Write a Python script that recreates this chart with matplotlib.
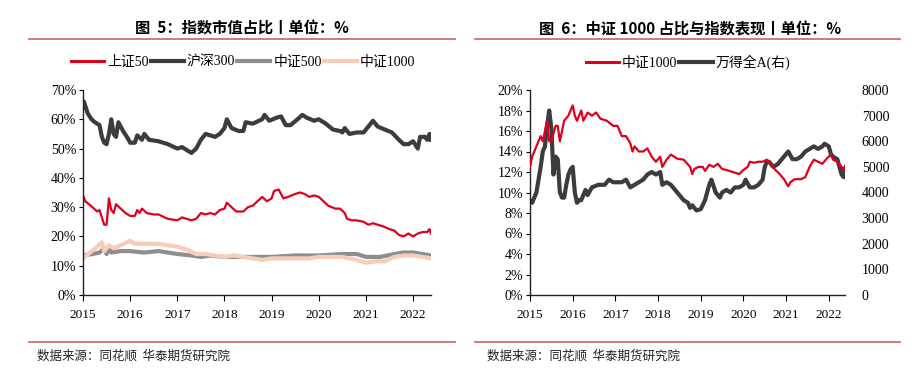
import matplotlib
matplotlib.use("Agg")
import matplotlib.pyplot as plt
from matplotlib.lines import Line2D

# ---------------- data (decimal years) ----------------
hs300_x = [2015.0, 2015.02, 2015.1, 2015.18, 2015.25, 2015.35, 2015.4, 2015.45, 2015.5, 2015.55, 2015.6, 2015.65,
           2015.7, 2015.75, 2015.85, 2015.95, 2016.0, 2016.1, 2016.15, 2016.25, 2016.3, 2016.4, 2016.6, 2016.8,
           2017.0, 2017.1, 2017.2, 2017.3, 2017.4, 2017.5, 2017.6, 2017.8, 2017.9, 2018.0, 2018.05, 2018.15,
           2018.3, 2018.4, 2018.45, 2018.6, 2018.8, 2018.85, 2018.95, 2019.1, 2019.2, 2019.3, 2019.4, 2019.55,
           2019.65, 2019.75, 2019.9, 2020.0, 2020.15, 2020.3, 2020.45, 2020.5, 2020.55, 2020.65, 2020.8, 2020.95,
           2021.05, 2021.15, 2021.25, 2021.4, 2021.55, 2021.7, 2021.8, 2021.9, 2022.0, 2022.1, 2022.15, 2022.25,
           2022.3, 2022.35, 2022.38]
hs300_y = [64, 66, 62, 60, 59, 58, 54, 52, 51.5, 55, 60, 55, 54, 59, 56, 53.5, 52, 52, 54.5, 53, 55, 53, 52.5,
           51.5, 50, 50.5, 49.5, 48.5, 50, 53, 55, 54, 55, 57, 60, 57, 56, 56, 59, 58.5, 60, 61.5, 59.5, 60.5,
           61, 58, 58, 60, 61.5, 60.5, 59.5, 60, 58.5, 56.5, 56, 55.5, 57, 55, 55.5, 55.5, 57.5, 59.5, 57.5,
           56.5, 55.5, 53, 51.5, 51.5, 52.5, 50, 54, 54, 53, 55, 53]

sz50_x = [2015.0, 2015.05, 2015.2, 2015.3, 2015.35, 2015.45, 2015.5, 2015.55, 2015.6, 2015.65, 2015.7, 2015.8,
          2015.9, 2016.0, 2016.1, 2016.15, 2016.2, 2016.25, 2016.35, 2016.5, 2016.6, 2016.8, 2017.0, 2017.1,
          2017.3, 2017.4, 2017.5, 2017.6, 2017.7, 2017.8, 2017.9, 2018.0, 2018.05, 2018.15, 2018.25, 2018.4,
          2018.5, 2018.6, 2018.7, 2018.8, 2018.9, 2019.0, 2019.05, 2019.15, 2019.25, 2019.35, 2019.5, 2019.6,
          2019.7, 2019.8, 2019.9, 2020.0, 2020.1, 2020.2, 2020.35, 2020.45, 2020.55, 2020.6, 2020.7, 2020.8,
          2020.95, 2021.05, 2021.15, 2021.35, 2021.5, 2021.6, 2021.7, 2021.8, 2021.9, 2022.0, 2022.1, 2022.2,
          2022.3, 2022.35, 2022.38]
sz50_y = [34, 32, 30, 28.5, 29, 24, 24, 33, 29, 28, 31, 29.5, 28, 27, 27, 29, 28, 29.5, 28, 27.5, 27.5, 26,
          25.5, 26.5, 25.5, 26, 28, 27.5, 28, 27.5, 29, 29.5, 31.5, 30, 28.5, 28.5, 30, 30.5, 32, 33.5, 32, 33,
          35.5, 36, 33, 33.5, 34.5, 35, 34.5, 33.5, 34, 33.5, 32, 30.5, 29.5, 29.5, 28, 26, 25.5, 25.5, 25, 24,
          24.5, 23.5, 22.5, 22, 20.5, 20, 21, 20, 21, 21.5, 21.5, 22.5, 21]

zz500_x = [2015.0, 2015.2, 2015.35, 2015.45, 2015.5, 2015.55, 2015.6, 2015.8, 2016.0, 2016.3, 2016.6, 2016.8,
           2017.0, 2017.3, 2017.5, 2017.7, 2018.0, 2018.5, 2018.9, 2019.0, 2019.5, 2020.0, 2020.5, 2020.8,
           2021.0, 2021.3, 2021.6, 2021.8, 2022.0, 2022.2, 2022.38]
zz500_y = [13.5, 14, 14.5, 16, 14, 16, 14.5, 15, 15, 14.5, 15, 14.5, 14, 13.5, 13, 13.5, 13, 13, 13, 13, 13.5,
           13.5, 14, 14, 13, 13, 14, 14.5, 14.5, 14, 13.5]

zz1000_x = [2015.0, 2015.15, 2015.3, 2015.4, 2015.45, 2015.55, 2015.65, 2015.8, 2016.0, 2016.1, 2016.3, 2016.6,
            2016.8, 2017.0, 2017.2, 2017.4, 2017.6, 2017.8, 2018.0, 2018.2, 2018.4, 2018.6, 2018.8, 2019.0,
            2019.2, 2019.5, 2019.8, 2020.0, 2020.3, 2020.5, 2020.8, 2021.0, 2021.2, 2021.4, 2021.6, 2021.8,
            2022.0, 2022.2, 2022.38]
zz1000_y = [12.5, 14.5, 16.5, 18, 15, 17, 16, 17, 18.5, 17.5, 17.5, 17.5, 17, 16.5, 15.5, 14, 14, 13.5, 13,
            13.5, 13, 12.5, 12, 12.5, 12.5, 12.5, 12.5, 13, 13, 13, 12, 11, 11.5, 11.5, 13, 13.5, 13.5, 13, 12.5]

share_x = [2015.0, 2015.05, 2015.15, 2015.2, 2015.25, 2015.3, 2015.35, 2015.4, 2015.45, 2015.5, 2015.6, 2015.65,
           2015.7, 2015.75, 2015.8, 2015.9, 2016.0, 2016.05, 2016.1, 2016.2, 2016.25, 2016.35, 2016.45, 2016.55,
           2016.65, 2016.8, 2016.95, 2017.05, 2017.15, 2017.25, 2017.35, 2017.4, 2017.45, 2017.55, 2017.65,
           2017.75, 2017.85, 2017.95, 2018.05, 2018.1, 2018.2, 2018.3, 2018.45, 2018.6, 2018.75, 2018.8, 2018.85,
           2018.95, 2019.05, 2019.1, 2019.2, 2019.3, 2019.4, 2019.5, 2019.6, 2019.75, 2019.9, 2020.0, 2020.1,
           2020.15, 2020.25, 2020.35, 2020.45, 2020.55, 2020.65, 2020.75, 2020.85, 2020.95, 2021.05, 2021.1,
           2021.2, 2021.35, 2021.45, 2021.55, 2021.65, 2021.75, 2021.85, 2021.95, 2022.0, 2022.05, 2022.1,
           2022.2, 2022.3, 2022.35, 2022.38]
share_y = [12.5, 13.5, 14.5, 15, 15.5, 15, 16, 17, 15, 15, 16.5, 16.5, 15, 16, 17, 17.5, 18.5, 17.5, 17, 18,
           17, 17.8, 17.5, 17.8, 17.2, 17, 16.5, 16.5, 15.5, 15.5, 14.8, 14, 14.5, 14, 14, 14.3, 13.5, 13, 13.5,
           12.5, 13.2, 13.7, 13.3, 13.2, 12.5, 11.8, 12.3, 12.5, 12.5, 12.1, 12.7, 12.5, 12.8, 12.3, 12.2, 12,
           11.8, 12.2, 12.5, 13, 12.9, 13, 13, 13.2, 12.7, 12.2, 11.8, 11.3, 10.6, 11, 11.3, 11.3, 11.5, 12.5,
           13.2, 13, 12.8, 13.3, 13.5, 13.7, 13.2, 13, 12.5, 12.2, 12.6]

wind_x = [2015.0, 2015.05, 2015.15, 2015.25, 2015.3, 2015.35, 2015.4, 2015.45, 2015.5, 2015.55, 2015.6, 2015.65,
          2015.7, 2015.75, 2015.8, 2015.85, 2015.9, 2015.95, 2016.0, 2016.05, 2016.1, 2016.15, 2016.2, 2016.3,
          2016.35, 2016.45, 2016.6, 2016.75, 2016.85, 2016.95, 2017.05, 2017.15, 2017.25, 2017.35, 2017.45,
          2017.55, 2017.65, 2017.75, 2017.85, 2017.95, 2018.05, 2018.1, 2018.2, 2018.3, 2018.4, 2018.5, 2018.6,
          2018.7, 2018.75, 2018.8, 2018.9, 2019.0, 2019.1, 2019.2, 2019.25, 2019.35, 2019.45, 2019.5, 2019.6,
          2019.7, 2019.8, 2019.9, 2020.0, 2020.05, 2020.15, 2020.25, 2020.35, 2020.45, 2020.5, 2020.55, 2020.6,
          2020.7, 2020.8, 2020.9, 2021.0, 2021.05, 2021.15, 2021.25, 2021.35, 2021.45, 2021.55, 2021.65, 2021.75,
          2021.85, 2021.9, 2022.0, 2022.05, 2022.1, 2022.2, 2022.3, 2022.35, 2022.38]
wind_y = [3700, 3600, 4000, 5000, 5600, 5800, 6600, 7200, 6500, 4700, 5400, 5300, 4000, 3800, 3800, 4300,
          4700, 4900, 5000, 4000, 3600, 3700, 3700, 4100, 3900, 4200, 4300, 4300, 4500, 4400, 4400, 4400, 4500,
          4200, 4300, 4400, 4500, 4700, 4800, 4700, 4800, 4300, 4400, 4300, 4100, 3900, 3700, 3600, 3400, 3500,
          3300, 3350, 3700, 4300, 4500, 4000, 3800, 4000, 4100, 4000, 4200, 4200, 4300, 4500, 4200, 4200, 4300,
          4500, 5000, 5200, 5200, 5000, 5100, 5300, 5500, 5600, 5300, 5300, 5400, 5600, 5700, 5800, 5700, 5800,
          5900, 5800, 5500, 5400, 5300, 4700, 4600, 4900]

years = [2015, 2016, 2017, 2018, 2019, 2020, 2021, 2022]

# ---------------- styling ----------------
SERIF = ['Liberation Serif', 'Noto Sans CJK SC']
BOLD = ['Noto Sans CJK SC', 'DejaVu Sans']
RED = '#E0001B'
DARK = '#3C3C3C'
GRAY = '#8E8E8E'
PEACH = '#F7CDB8'
RULE = '#CD7070'

fig = plt.figure(figsize=(9.21, 3.72), dpi=100)
W, H = 921.0, 372.0

def box(x0, x1, ytop, ybot):
    return [x0 / W, 1 - ybot / H, (x1 - x0) / W, (ybot - ytop) / H]

def style_axes(ax):
    for s in ['top', 'right']:
        ax.spines[s].set_visible(False)
    for s in ['left', 'bottom']:
        ax.spines[s].set_color('#222222')
        ax.spines[s].set_linewidth(1.0)
    ax.set_xlim(2015, 2022.38)
    ax.set_xticks(years)
    ax.set_xticklabels([str(y) for y in years], family=SERIF, fontsize=9.5)
    ax.tick_params(axis='x', direction='out', length=4, width=0.8, pad=6)
    ax.tick_params(axis='y', direction='out', length=3, width=0.8, pad=2, labelsize=10)
    for lab in ax.get_yticklabels():
        lab.set_family(SERIF)

# ---------------- left chart ----------------
ax1 = fig.add_axes(box(83, 431, 90, 295))
ax1.plot(zz500_x, zz500_y, color=GRAY, lw=3.0, solid_joinstyle='round')
ax1.plot(zz1000_x, zz1000_y, color=PEACH, lw=3.0, solid_joinstyle='round')
ax1.plot(hs300_x, hs300_y, color=DARK, lw=3.0, solid_joinstyle='round')
ax1.plot(sz50_x, sz50_y, color=RED, lw=1.6, solid_joinstyle='round')
ax1.set_ylim(0, 70)
ax1.set_yticks(range(0, 71, 10))
ax1.set_yticklabels([f'{v}%' for v in range(0, 71, 10)])
style_axes(ax1)

h1 = [Line2D([], [], color=RED, lw=2.2), Line2D([], [], color=DARK, lw=3.0),
      Line2D([], [], color=GRAY, lw=3.0), Line2D([], [], color=PEACH, lw=3.0)]
fig.legend(h1, ['上证50', '沪深300', '中证500', '中证1000'], loc='center', bbox_to_anchor=(243 / W, 1 - 62 / H),
           ncol=4, frameon=False, prop={'family': SERIF, 'size': 10}, handlelength=2.4, handletextpad=0.2,
           columnspacing=0.15, borderaxespad=0)

# ---------------- right chart ----------------
ax2 = fig.add_axes(box(530, 845, 90, 295))
ax2.plot(share_x, share_y, color=RED, lw=1.6, solid_joinstyle='round', zorder=3)
ax2.set_ylim(0, 20)
ax2.set_yticks(range(0, 21, 2))
ax2.set_yticklabels([f'{v}%' for v in range(0, 21, 2)])
style_axes(ax2)
ax3 = ax2.twinx()
ax3.plot(wind_x, wind_y, color=DARK, lw=3.0, solid_joinstyle='round', zorder=2)
ax3.set_ylim(0, 8000)
ax3.set_yticks(range(0, 8001, 1000))
for s in ['top', 'right', 'left', 'bottom']:
    ax3.spines[s].set_visible(False)
ax3.tick_params(axis='y', length=0, pad=12, labelsize=10)
for lab in ax3.get_yticklabels():
    lab.set_family(SERIF)
ax2.set_zorder(ax3.get_zorder() + 1)
ax2.patch.set_visible(False)

h2 = [Line2D([], [], color=RED, lw=2.2), Line2D([], [], color=DARK, lw=3.0)]
fig.legend(h2, ['中证1000', '万得全A(右)'], loc='center', bbox_to_anchor=(688 / W, 1 - 62 / H),
           ncol=2, frameon=False, prop={'family': SERIF, 'size': 10}, handlelength=2.4, handletextpad=0.2,
           columnspacing=0.15, borderaxespad=0)

# ---------------- titles, rules, sources ----------------
fig.text(242 / W, 1 - 29 / H, '图  5：指数市值占比丨单位：%', ha='center', va='center',
         family=BOLD, fontsize=11, fontweight='bold')
fig.text(690 / W, 1 - 29 / H, '图  6：中证 1000 占比与指数表现丨单位：%', ha='center', va='center',
         family=BOLD, fontsize=11, fontweight='bold')

for (x0, x1) in [(29, 455), (475, 900)]:
    fig.add_artist(Line2D([x0 / W, x1 / W], [1 - 39 / H, 1 - 39 / H], color=RULE, lw=1.3))
    fig.add_artist(Line2D([x0 / W, x1 / W], [1 - 342 / H, 1 - 342 / H], color=RULE, lw=1.3))

fig.text(37 / W, 1 - 356 / H, '数据来源：同花顺  华泰期货研究院', ha='left', va='center',
         family=BOLD, fontsize=9, color='#222222')
fig.text(487 / W, 1 - 356 / H, '数据来源：同花顺  华泰期货研究院', ha='left', va='center',
         family=BOLD, fontsize=9, color='#222222')

fig.savefig('out.png', dpi=100)
